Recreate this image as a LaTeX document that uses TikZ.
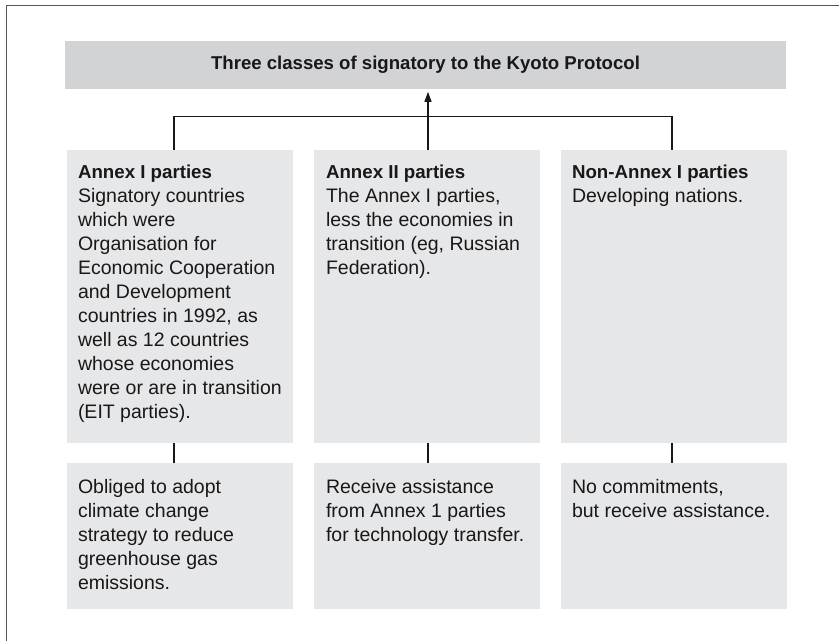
\documentclass[tikz,border=0pt]{standalone}
\usepackage{fontspec}
\setmainfont{Liberation Sans}
\usetikzlibrary{positioning,arrows.meta}

\definecolor{titlegray}{HTML}{D1D3D4}
\definecolor{boxgray}{HTML}{E6E7E8}
\definecolor{ink}{HTML}{1A1718}
\definecolor{framegray}{HTML}{555555}
\newcommand{\hd}[1]{{\fontsize{18.7}{24}\selectfont\bfseries #1}}

\begin{document}
\begin{tikzpicture}[x=1pt, y=-1pt,
    panel/.style = {fill=boxgray, minimum width=226pt, inner sep=0pt},
    txt/.style = {align=left, inner sep=0pt, text=ink, anchor=north west,
                  font=\fontsize{19.5}{24}\selectfont,
                  execute at begin node=\rule{0pt}{15pt}},
    link/.style = {draw=ink, line width=1.3pt}]
    \useasboundingbox (0,0) rectangle (839,641);
    \draw[framegray, line width=1.6pt] (6.5,641) -- (6.5,5.5) -- (839,5.5);

    \node[fill=titlegray, minimum width=721pt, minimum height=48pt, text=ink,
          font=\fontsize{18.6}{22}\selectfont\bfseries] (title) at (425.5,65)
          {Three classes of signatory to the Kyoto Protocol};

    % upper row
    \node[panel, minimum height=293pt] (up1) at (180,296.5) {};
    \node[panel, minimum height=293pt] (up2) at (427,296.5) {};
    \node[panel, minimum height=293pt] (up3) at (674,296.5) {};
    % lower row
    \node[panel, minimum height=146pt] (lo1) at (180,536) {};
    \node[panel, minimum height=146pt] (lo2) at (427,536) {};
    \node[panel, minimum height=146pt] (lo3) at (674,536) {};

    \node[txt, below right=15pt and 11pt of up1.north west] (t1)
        {\hd{Annex I parties}\\Signatory countries\\which were\\Organisation for\\
         Economic Cooperation\\and Development\\countries in 1992, as\\
         well as 12 countries\\whose economies\\were or are in transition\\(EIT parties).};
    \node[txt, below right=15pt and 12pt of up2.north west] (t2)
        {\hd{Annex II parties}\\The Annex I parties,\\less the economies in\\
         transition (eg, Russian\\Federation).};
    \node[txt, below right=15pt and 11pt of up3.north west] (t3)
        {\hd{Non-Annex I parties}\\Developing nations.};

    \node[txt, below right=16pt and 11pt of lo1.north west] (b1)
        {Obliged to adopt\\climate change\\strategy to reduce\\greenhouse gas\\emissions.};
    \node[txt, below right=16pt and 12pt of lo2.north west] (b2)
        {Receive assistance\\from Annex 1 parties\\for technology transfer.};
    \node[txt, below right=16pt and 11pt of lo3.north west] (b3)
        {No commitments,\\but receive assistance.};

    % connectors
    \draw[link] ([xshift=-6pt]up1.north) -- ++(0,-33) -| ([xshift=-2pt]up3.north);
    \draw[link, -{Triangle[length=10pt,width=7pt]}] ([xshift=1pt]up2.north) -- ++(0,-58);
    \draw[link] ([xshift=-6pt]up1.south) -- ([xshift=-6pt]lo1.north);
    \draw[link] ([xshift=1pt]up2.south) -- ([xshift=1pt]lo2.north);
    \draw[link] ([xshift=-2pt]up3.south) -- ([xshift=-2pt]lo3.north);
\end{tikzpicture}
\end{document}
